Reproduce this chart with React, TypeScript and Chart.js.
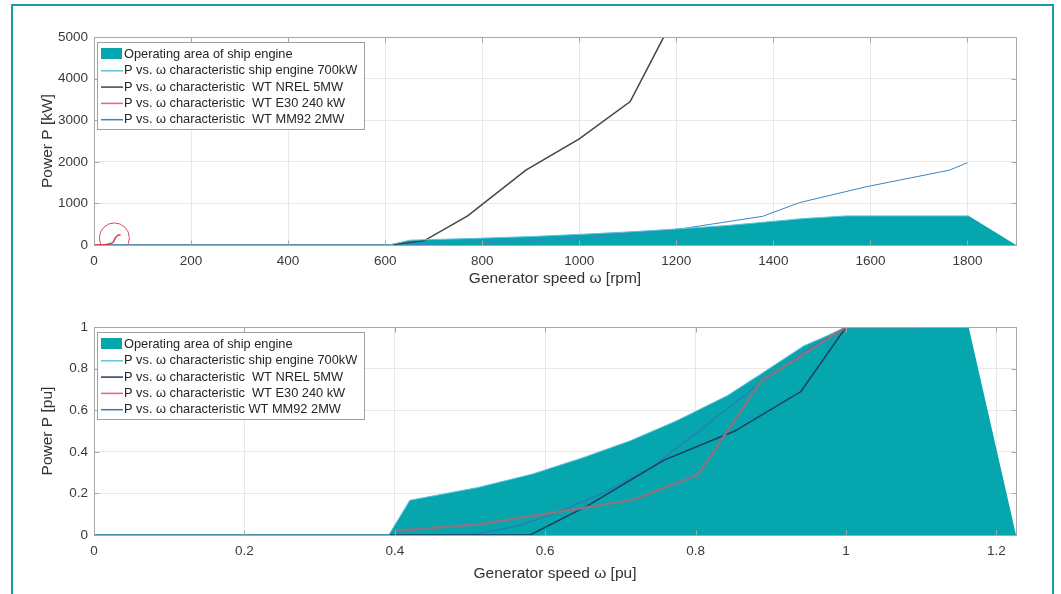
import React, { useEffect, useRef } from 'react';
import { Chart, registerables } from 'chart.js';

Chart.register(...registerables);

const FONT = "'Liberation Sans', Arial, Helvetica, sans-serif";
const TEAL = '#05a6ae';
const FRAME = '#1a9ca6';

// ---------- Legend labels ----------
const LABELS = [
  'Operating area of ship engine',
  'P vs. \u03c9 characteristic ship engine 700kW',
  'P vs. \u03c9 characteristic  WT NREL 5MW',
  'P vs. \u03c9 characteristic  WT E30 240 kW',
  'P vs. \u03c9 characteristic  WT MM92 2MW',
];
const LABELS_PU = [
  'Operating area of ship engine',
  'P vs. \u03c9 characteristic ship engine 700kW',
  'P vs. \u03c9 characteristic  WT NREL 5MW',
  'P vs. \u03c9 characteristic  WT E30 240 kW',
  'P vs. \u03c9 characteristic WT MM92 2MW',
];

// ---------- Top chart (rpm / kW) ----------
const TOP_FILL_RPM = [0, 608, 651, 790, 904, 1009, 1105, 1201, 1305, 1375, 1463, 1497, 1550, 1803, 1900];
const TOP_FILL_KW = [0, 0, 117, 160, 205, 261, 317, 385, 469, 543, 637, 661, 700, 700, 0];
const TOP_SHIP_RPM = [0, 608, 651, 790, 904, 1009, 1105, 1201, 1305, 1375, 1463, 1497, 1550, 1803];
const TOP_SHIP_KW = [0, 0, 117, 160, 205, 261, 317, 385, 469, 543, 637, 661, 700, 700];
const TOP_NREL_RPM = [0, 610, 680, 770, 890, 1000, 1105, 1174];
const TOP_NREL_KW = [0, 0, 100, 700, 1800, 2550, 3450, 5000];
const TOP_E30_RPM = [0, 20, 25, 32, 36, 40, 44, 50, 55];
const TOP_E30_KW = [0, 5, 12, 31, 41, 70, 178, 240, 240];
const TOP_MM92_RPM = [0, 620, 700, 800, 900, 1000, 1100, 1216, 1378, 1454, 1591, 1763, 1800];
const TOP_MM92_KW = [0, 0, 15, 50, 100, 170, 260, 400, 690, 1020, 1400, 1800, 1980];
const TOP_CIRCLE_RPM = [42];
const TOP_CIRCLE_KW = [170];

// ---------- Bottom chart (pu / pu) ----------
const BOT_FILL_X = [0, 0.392, 0.42, 0.51, 0.583, 0.651, 0.713, 0.775, 0.842, 0.887, 0.944, 0.966, 1, 1.163, 1.226];
const BOT_FILL_Y = [0, 0, 0.167, 0.228, 0.293, 0.373, 0.453, 0.55, 0.67, 0.775, 0.91, 0.944, 1, 1, 0];
const BOT_SHIP_X = [0, 0.392, 0.42, 0.51, 0.583, 0.651, 0.713, 0.775, 0.842, 0.887, 0.944, 0.966, 1, 1.163];
const BOT_SHIP_Y = [0, 0, 0.167, 0.228, 0.293, 0.373, 0.453, 0.55, 0.67, 0.775, 0.91, 0.944, 1, 1];
const BOT_NREL_X = [0, 0.58, 0.656, 0.758, 0.852, 0.94, 1];
const BOT_NREL_Y = [0, 0, 0.14, 0.36, 0.5, 0.69, 1];
const BOT_E30_X = [0.4, 0.51, 0.65, 0.718, 0.803, 0.887, 1, 1.1];
const BOT_E30_Y = [0.02, 0.05, 0.13, 0.17, 0.29, 0.74, 1, 1];
const BOT_MM92_X = [0, 0.5, 0.56, 0.61, 0.676, 0.741, 0.808, 0.887, 0.944, 1];
const BOT_MM92_Y = [0, 0, 0.04, 0.1, 0.2, 0.325, 0.51, 0.735, 0.88, 1];

const pts = (xs: number[], ys: number[]) => xs.map((x, i) => ({ x, y: ys[i] }));
const fmt = (v: any) => String(Math.round(Number(v) * 1000) / 1000);

const boxPlugin = {
  id: 'matlabBox',
  afterDatasetsDraw(chart: any) {
    const { ctx, chartArea } = chart;
    const L = Math.round(chartArea.left) + 0.5;
    const T = Math.round(chartArea.top) + 0.5;
    const R = Math.round(chartArea.right) + 0.5;
    const B = Math.round(chartArea.bottom) + 0.5;
    ctx.save();
    ctx.strokeStyle = '#a8a8a8';
    ctx.lineWidth = 1;
    ctx.strokeRect(L, T, R - L, B - T);
    // inward tick marks
    const tl = 5;
    ctx.beginPath();
    chart.scales.x.ticks.forEach((t: any) => {
      const px = Math.round(chart.scales.x.getPixelForValue(t.value)) + 0.5;
      ctx.moveTo(px, B); ctx.lineTo(px, B - tl);
      ctx.moveTo(px, T); ctx.lineTo(px, T + tl);
    });
    chart.scales.y.ticks.forEach((t: any) => {
      const py = Math.round(chart.scales.y.getPixelForValue(t.value)) + 0.5;
      ctx.moveTo(L, py); ctx.lineTo(L + tl, py);
      ctx.moveTo(R, py); ctx.lineTo(R - tl, py);
    });
    ctx.stroke();
    // legend
    const items = chart.data.datasets.filter((d: any) => d.label);
    const x0 = Math.round(chartArea.left) + 3;
    const y0 = Math.round(chartArea.top) + 5;
    const w = 267;
    const h = 87;
    const rowH = 16.3;
    ctx.fillStyle = '#ffffff';
    ctx.fillRect(x0, y0, w, h);
    ctx.strokeStyle = '#a0a0a0';
    ctx.strokeRect(x0 + 0.5, y0 + 0.5, w, h);
    ctx.font = `12.8px ${FONT}`;
    ctx.textBaseline = 'middle';
    ctx.textAlign = 'left';
    items.forEach((d: any, i: number) => {
      const cy = y0 + 12 + i * rowH;
      if (d.fill) {
        ctx.fillStyle = d.backgroundColor;
        ctx.fillRect(x0 + 4, cy - 6, 21, 11);
      } else {
        ctx.strokeStyle = d.legendColor || d.borderColor;
        ctx.lineWidth = 1.5;
        ctx.beginPath();
        ctx.moveTo(x0 + 4, cy + 0.5);
        ctx.lineTo(x0 + 26, cy + 0.5);
        ctx.stroke();
      }
      ctx.fillStyle = '#262626';
      ctx.fillText(d.label, x0 + 27, cy + 0.5);
    });
    ctx.restore();
  },
};

function makeOptions(xMax: number, xStep: number, yMax: number, yStep: number, xTitle: string, yTitle: string, xH: number) {
  return {
    responsive: false,
    animation: false as const,
    layout: { autoPadding: false, padding: { left: 0, right: 14, top: 0, bottom: 0 } },
    elements: { point: { radius: 0 }, line: { tension: 0 } },
    plugins: { legend: { display: false }, tooltip: { enabled: false } },
    scales: {
      x: {
        type: 'linear' as const,
        min: 0,
        max: xMax,
        ticks: { stepSize: xStep, includeBounds: false, padding: 8, color: '#3a3a3a', font: { size: 13.5, family: FONT }, callback: fmt, maxRotation: 0 },
        grid: { color: '#e8e8e8', drawTicks: false },
        border: { display: false },
        title: { display: true, text: xTitle, color: '#333', font: { size: 15.5, family: FONT }, padding: { top: 0, bottom: 2 } },
        afterFit: (s: any) => { s.height = xH; },
      },
      y: {
        type: 'linear' as const,
        min: 0,
        max: yMax,
        ticks: { stepSize: yStep, padding: 6, color: '#3a3a3a', font: { size: 13.5, family: FONT }, callback: fmt },
        grid: { color: '#e8e8e8', drawTicks: false },
        border: { display: false },
        title: { display: true, text: yTitle, color: '#333', font: { size: 15.5, family: FONT }, padding: { top: 3, bottom: 0 } },
        afterFit: (s: any) => { s.width = 59; },
      },
    },
  };
}

function TopChart() {
  const ref = useRef<HTMLCanvasElement>(null);
  useEffect(() => {
    const chart = new Chart(ref.current as HTMLCanvasElement, {
      type: 'line',
      data: {
        datasets: [
          { label: LABELS[0], data: pts(TOP_FILL_RPM, TOP_FILL_KW), fill: 'origin', backgroundColor: TEAL, borderColor: TEAL, borderWidth: 0, order: 5 },
          { label: LABELS[1], data: pts(TOP_SHIP_RPM, TOP_SHIP_KW), fill: false, borderColor: '#5cc3e0', borderWidth: 1, order: 1 },
          { label: LABELS[2], data: pts(TOP_NREL_RPM, TOP_NREL_KW), fill: false, borderColor: '#3b4848', borderWidth: 1.5, order: 1 },
          { label: LABELS[3], data: pts(TOP_E30_RPM, TOP_E30_KW), fill: false, borderColor: '#d8404e', borderWidth: 1.5, legendColor: '#f0607a', order: 0 },
          { label: LABELS[4], data: pts(TOP_MM92_RPM, TOP_MM92_KW), fill: false, borderColor: '#3a86c4', borderWidth: 1, order: 1 },
          { data: pts(TOP_CIRCLE_RPM, TOP_CIRCLE_KW), showLine: false, fill: false, pointRadius: 15, pointBorderColor: '#e04858', pointBackgroundColor: 'rgba(0,0,0,0)', pointBorderWidth: 1, order: 0 },
        ] as any,
      },
      options: makeOptions(1900, 200, 5000, 1000, 'Generator speed \u03c9 [rpm]', 'Power P [kW]', 45) as any,
      plugins: [boxPlugin],
    });
    return () => chart.destroy();
  }, []);
  return <canvas ref={ref} width={995} height={267} style={{ position: 'absolute', left: 35, top: 23 }} />;
}

function BottomChart() {
  const ref = useRef<HTMLCanvasElement>(null);
  useEffect(() => {
    const chart = new Chart(ref.current as HTMLCanvasElement, {
      type: 'line',
      data: {
        datasets: [
          { label: LABELS_PU[0], data: pts(BOT_FILL_X, BOT_FILL_Y), fill: 'origin', backgroundColor: TEAL, borderColor: TEAL, borderWidth: 0, order: 5 },
          { label: LABELS_PU[1], data: pts(BOT_SHIP_X, BOT_SHIP_Y), fill: false, borderColor: '#5cc3e0', borderWidth: 1, order: 1 },
          { label: LABELS_PU[2], data: pts(BOT_NREL_X, BOT_NREL_Y), fill: false, borderColor: '#1e3c5e', borderWidth: 1.5, order: 1 },
          { label: LABELS_PU[3], data: pts(BOT_E30_X, BOT_E30_Y), fill: false, borderColor: '#857585', borderWidth: 2.5, legendColor: '#f0607a', order: 0 },
          { label: LABELS_PU[4], data: pts(BOT_MM92_X, BOT_MM92_Y), fill: false, borderColor: '#2f78b8', borderWidth: 1.2, order: 1 },
        ] as any,
      },
      options: makeOptions(1.226, 0.2, 1, 0.2, 'Generator speed \u03c9 [pu]', 'Power P [pu]', 50) as any,
      plugins: [boxPlugin],
    });
    return () => chart.destroy();
  }, []);
  return <canvas ref={ref} width={995} height={272} style={{ position: 'absolute', left: 35, top: 313 }} />;
}

export default function App() {
  return (
    <div style={{ position: 'fixed', left: 0, top: 0, width: 1061, height: 594, background: '#ffffff', overflow: 'hidden' }}>
      <div style={{ position: 'absolute', left: 11, top: 4, width: 1043, height: 620, border: `2px solid ${FRAME}`, boxSizing: 'border-box' }} />
      <TopChart />
      <BottomChart />
    </div>
  );
}
